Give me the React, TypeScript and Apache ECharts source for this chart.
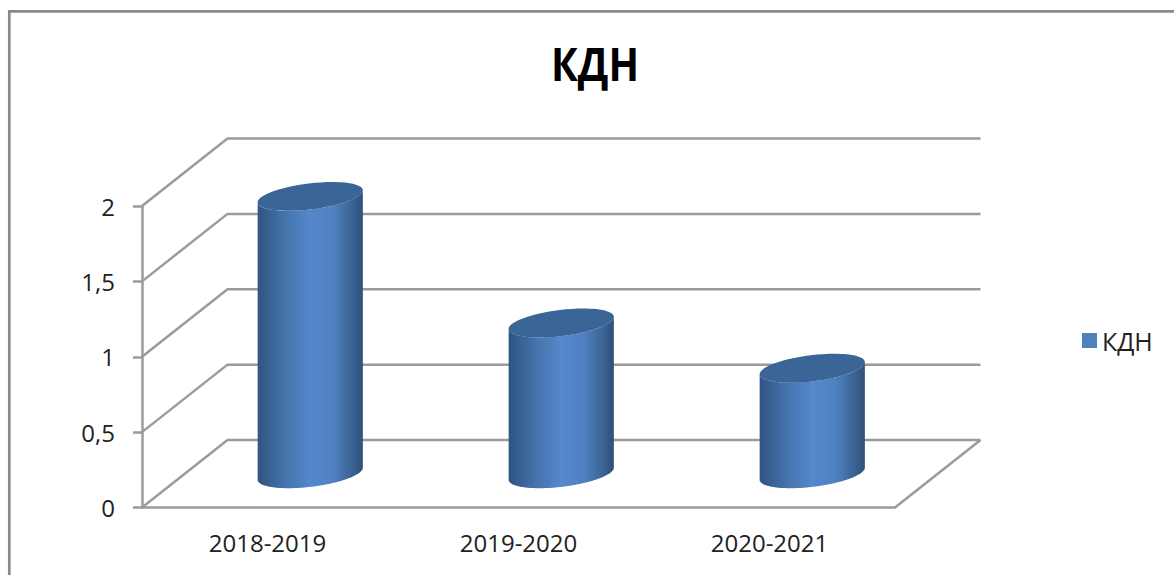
import React, { useEffect, useRef } from "react";
import * as echarts from "echarts";

const categories = ["2018-2019", "2019-2020", "2020-2021"];
const seriesName = "КДН";
const values = [1.84, 1.0, 0.7];
const gridValues = [0, 0.5, 1, 1.5, 2];

const DEPTH_X = 85.5;
const DEPTH_Y = -67.5;
const RX = 53;
const RY = 13;
const TILT = (7 * Math.PI) / 180;
const LINE = "#9b9b9b";
const FONT = "'Open Sans', 'Noto Sans', sans-serif";

const renderWalls = (params: any, api: any) => {
  const cs = params.coordSys;
  const y = api.coord([0, api.value(1)])[1];
  const left = cs.x;
  const right = cs.x + cs.width;
  const children: any[] = [
    {
      type: "polyline",
      shape: {
        points: [
          [left, y],
          [left + DEPTH_X, y + DEPTH_Y],
          [right + DEPTH_X, y + DEPTH_Y],
        ],
      },
      style: { stroke: LINE, lineWidth: 2.5, fill: "none" },
    },
  ];
  if (api.value(1) === 0) {
    children.push({
      type: "line",
      shape: { x1: right, y1: y, x2: right + DEPTH_X, y2: y + DEPTH_Y },
      style: { stroke: LINE, lineWidth: 2.5 },
    });
  }
  return { type: "group", children };
};

// Point on the tilted ellipse outline around (cx, cy) at parameter t.
const ellipsePoint = (cx: number, cy: number, t: number) => {
  const ex = RX * Math.cos(t);
  const ey = RY * Math.sin(t);
  return [
    cx + ex * Math.cos(TILT) + ey * Math.sin(TILT),
    cy - ex * Math.sin(TILT) + ey * Math.cos(TILT),
  ];
};

const renderCylinder = (params: any, api: any) => {
  const base = api.coord([api.value(0), 0]);
  const top = api.coord([api.value(0), api.value(1)]);
  const cx = base[0] + DEPTH_X / 2;
  const by = base[1] + DEPTH_Y / 2;
  const ty = top[1] + DEPTH_Y / 2;
  const pts: number[][] = [];
  // lower arc runs from the right end, through the bottom, to the left end
  for (let i = 0; i <= 48; i++) pts.push(ellipsePoint(cx, by, (Math.PI * i) / 48));
  // upper arc of the top cap closes the side surface
  for (let i = 48; i >= 0; i--) pts.push(ellipsePoint(cx, ty, (Math.PI * i) / 48));
  return {
    type: "group",
    children: [
      {
        type: "polygon",
        shape: { points: pts },
        style: {
          fill: {
            type: "linear",
            global: true,
            x: cx - RX,
            y: 0,
            x2: cx + RX,
            y2: 0,
            colorStops: [
              { offset: 0, color: "#2f5480" },
              { offset: 0.28, color: "#4675ae" },
              { offset: 0.5, color: "#5588cc" },
              { offset: 0.72, color: "#4f81c0" },
              { offset: 1, color: "#2f5078" },
            ],
          },
        },
      },
      {
        type: "ellipse",
        x: cx,
        y: ty,
        rotation: TILT,
        shape: { cx: 0, cy: 0, rx: RX, ry: RY },
        style: { fill: "#3b6596" },
      },
    ],
  };
};

export default function App() {
  const ref = useRef<HTMLDivElement>(null);
  useEffect(() => {
    const chart = echarts.init(ref.current!, undefined, { renderer: "svg" });
    chart.setOption({
      animation: false,
      backgroundColor: "#fff",
      legend: {
        data: [{ name: seriesName, icon: "rect" }],
        left: 1077,
        top: 323,
        itemWidth: 15,
        itemHeight: 15,
        itemGap: 6,
        textStyle: { fontFamily: FONT, fontSize: 25, color: "#222" },
        selectedMode: false,
      },
      grid: { left: 142, top: 206, width: 753, height: 301.5 },
      xAxis: {
        type: "category",
        data: categories,
        axisLine: { lineStyle: { color: LINE, width: 2.5 } },
        axisTick: { length: 10, lineStyle: { color: LINE, width: 2.5 } },
        axisLabel: { fontFamily: FONT, fontSize: 24, color: "#222", margin: 23 },
      },
      yAxis: {
        type: "value",
        min: 0,
        max: 2,
        interval: 0.5,
        axisLine: { show: true, lineStyle: { color: LINE, width: 2.5 } },
        axisTick: { show: true, length: 9, lineStyle: { color: LINE, width: 2.5 } },
        splitLine: { show: false },
        axisLabel: {
          fontFamily: FONT,
          fontSize: 24,
          color: "#222",
          margin: 27,
          padding: [8, 0, 0, 0],
          formatter: (v: number) => String(v).replace(".", ","),
        },
      },
      series: [
        {
          type: "custom",
          name: "walls",
          data: gridValues.map((v) => [0, v]),
          encode: { x: 0, y: 1 },
          renderItem: renderWalls,
          silent: true,
          z: 1,
        },
        {
          type: "custom",
          name: seriesName,
          data: values.map((v, i) => [i, v]),
          encode: { x: 0, y: 1 },
          renderItem: renderCylinder,
          itemStyle: { color: "#4f81bd" },
          z: 3,
        },
      ],
      graphic: [
        {
          type: "polyline",
          silent: true,
          shape: {
            points: [
              [9.3, 575],
              [9.3, 11.3],
              [1174, 11.3],
            ],
          },
          style: { stroke: "#8a8a8a", lineWidth: 2.7, fill: "none" },
        },
        {
          type: "text",
          silent: true,
          x: 595,
          y: 63,
          scaleX: 0.87,
          style: {
            text: seriesName,
            textAlign: "center",
            textVerticalAlign: "middle",
            fontFamily: FONT,
            fontSize: 46,
            fontWeight: "bold",
            fill: "#000",
          },
        },
      ],
    });
    return () => chart.dispose();
  }, []);
  return (
    <div
      ref={ref}
      style={{ position: "fixed", left: 0, top: 0, width: 1174, height: 575 }}
    />
  );
}
